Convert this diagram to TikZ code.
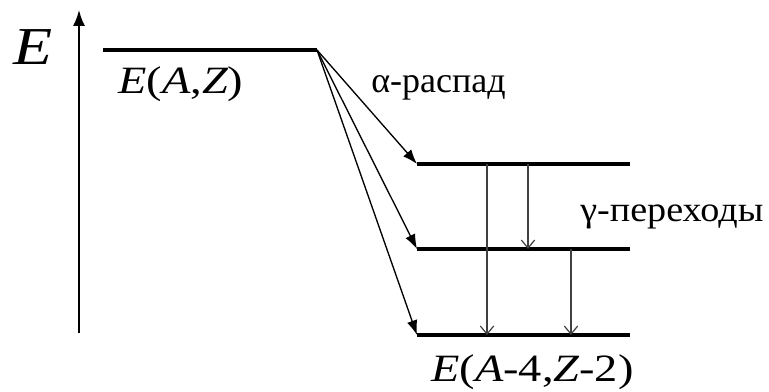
\documentclass[tikz,border=0pt]{standalone}
\usepackage{fontspec}
\setmainfont{Liberation Serif}
\newfontfamily\widefont[FakeStretch=1.2]{Liberation Serif}
\newfontfamily\midfont[FakeStretch=1.08]{Liberation Serif}
\usetikzlibrary{arrows.meta}
\begin{document}
\begin{tikzpicture}[x=0.75pt,y=-0.75pt,
  level/.style={line width=2.6pt},
  axis/.style={line width=1.3pt,-{Latex[length=12pt,width=9pt]}},
  alpha/.style={line width=1.0pt,-{Latex[length=11pt,width=8pt]}},
  gamma/.style={line width=0.9pt,black!75,-{Straight Barb[length=6pt,width=10pt,line width=0.9pt]}},
  lbl/.style={inner sep=0pt,anchor=base west,font=\widefont\fontsize{29}{32}\selectfont},
  txt/.style={inner sep=0pt,anchor=base west,font=\midfont\fontsize{26.5}{30}\selectfont}]
\useasboundingbox (0,0) rectangle (769,392);
% axis
\coordinate (ax0) at (79,333);
\coordinate (ax1) at (79,10);
\draw[axis] (ax0) -- (ax1);
\node[inner sep=0pt,anchor=base west,font=\widefont\fontsize{40}{44}\selectfont] (E) at (13,65) {\itshape E};
% levels
\coordinate (t0) at (103,50);  \coordinate (t1) at (317,50);
\coordinate (a0) at (417,164); \coordinate (a1) at (630,164);
\coordinate (b0) at (417,249); \coordinate (b1) at (630,249);
\coordinate (c0) at (417,335); \coordinate (c1) at (630,335);
\draw[level] (t0) -- (t1);
\draw[level] (a0) -- (a1);
\draw[level] (b0) -- (b1);
\draw[level] (c0) -- (c1);
% alpha decays
\draw[alpha] (t1) -- (a0);
\draw[alpha] (t1) -- (b0);
\draw[alpha] (t1) -- (c0);
% gamma transitions
\coordinate (g1s) at (487,164); \coordinate (g1e) at (487,335);
\coordinate (g2s) at (528,164); \coordinate (g2e) at (528,249);
\coordinate (g3s) at (571,249); \coordinate (g3e) at (571,335);
\draw[gamma] (g1s) -- (g1e);
\draw[gamma] (g2s) -- (g2e);
\draw[gamma] (g3s) -- (g3e);
% labels
\node[lbl] (EAZ) at (118,94) {\itshape E\upshape(\itshape A\upshape,\itshape Z\upshape)};
\node[lbl] (EA4) at (431,382) {\itshape E\upshape(\itshape A\upshape-4,\itshape Z\upshape-2)};
\node[txt,font=\rmfamily\fontsize{27}{30}\selectfont] (alab) at (371,93) {α-распад};
\node[txt] (glab) at (580,222) {γ-переходы};
\end{tikzpicture}
\end{document}
